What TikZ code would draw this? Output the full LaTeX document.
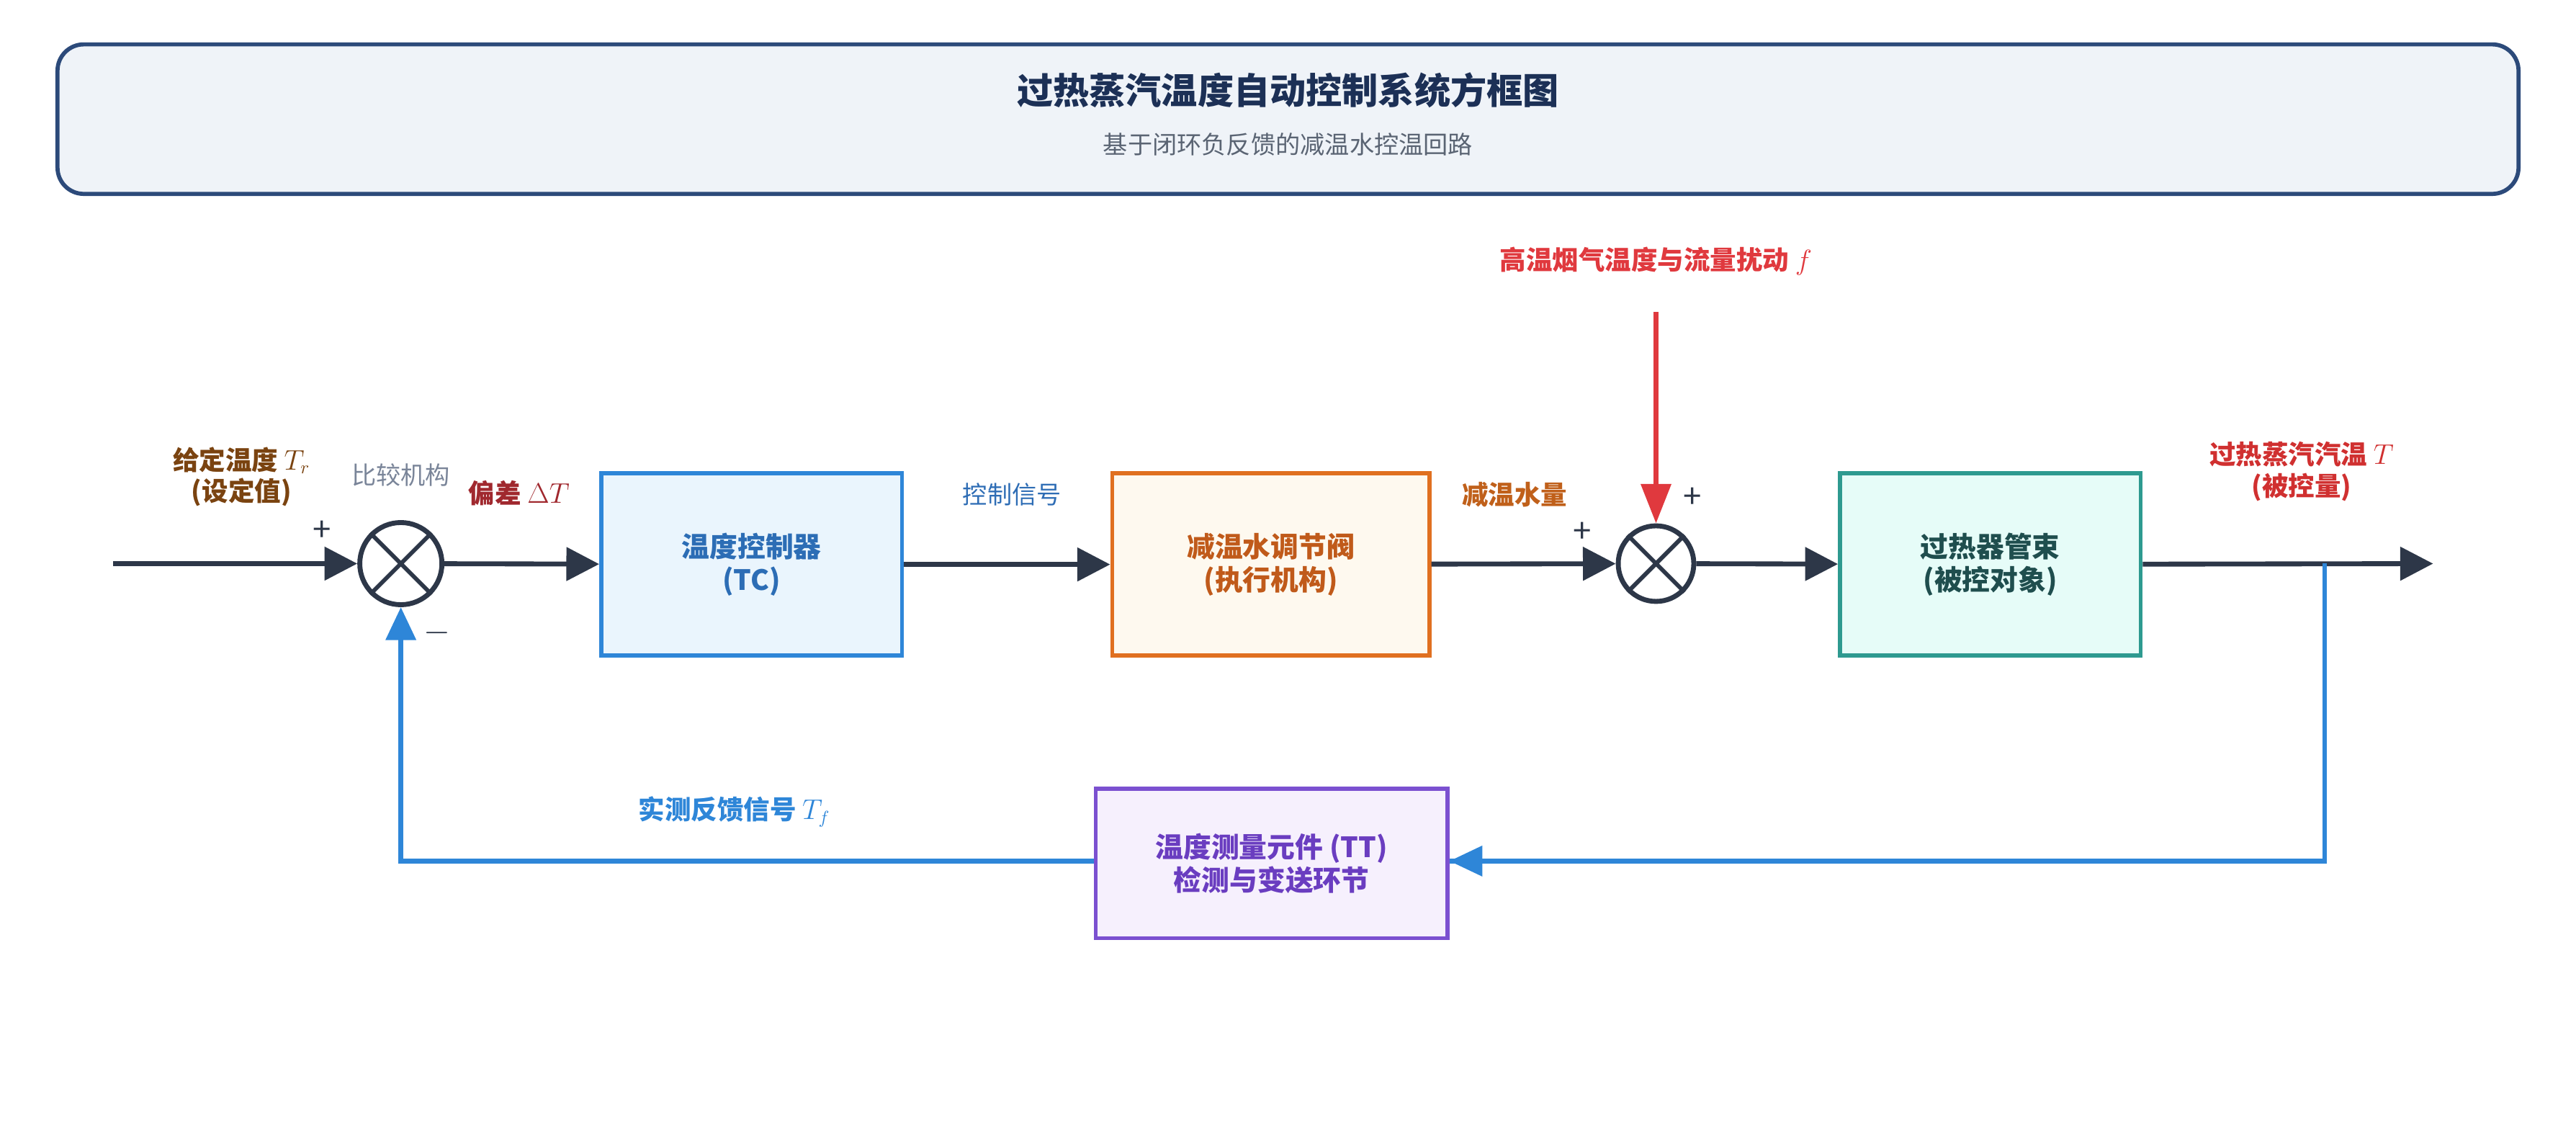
\documentclass[tikz,border=0pt]{standalone}
\usepackage{fontspec}
\setmainfont{Noto Sans CJK SC}
\usetikzlibrary{arrows.meta}
\definecolor{dark}{HTML}{2D3748}
\definecolor{fbblue}{HTML}{2E86D8}
\definecolor{dred}{HTML}{E0393E}
\begin{document}
\begin{tikzpicture}[x=1pt,y=-1pt,
  sig/.style={line width=3pt,draw=dark,-{Triangle[length=20pt,width=20pt]}},
  fb/.style={line width=3pt,draw=fbblue,-{Triangle[length=20pt,width=18pt]}},
  fbl/.style={line width=3pt,draw=fbblue},
  blk/.style={draw,line width=2.5pt,minimum width=183pt,minimum height=111pt,align=center,font=\fontsize{17}{20}\selectfont\bfseries},
  sum/.style={circle,draw=dark,line width=3pt,fill=white,minimum size=50pt,inner sep=0pt},
  lbl/.style={font=\fontsize{16}{19}\selectfont\bfseries,align=center},
  pm/.style={font=\fontsize{20}{20}\selectfont,text=dark}]
\useasboundingbox (0,0) rectangle (1568,697);
% title
\node[draw={rgb,255:red,44;green,74;blue,122},line width=2.5pt,fill={rgb,255:red,239;green,243;blue,248},rounded corners=16pt,minimum width=1498pt,minimum height=91pt] (title) at (784,72.5) {};
\node[font=\fontsize{22}{26}\selectfont\bfseries,text={rgb,255:red,28;green,48;blue,86}] (t1) at (784,55) {过热蒸汽温度自动控制系统方框图};
\node[font=\fontsize{15}{18}\selectfont,text={rgb,255:red,90;green,100;blue,115}] (t2) at (784,88) {基于闭环负反馈的减温水控温回路};
% blocks
\node[blk,draw=fbblue,fill={rgb,255:red,234;green,245;blue,253},text={rgb,255:red,44;green,109;blue,181}] (tc) at (457.5,343.5) {温度控制器\\(TC)};
\node[blk,minimum width=193pt,draw={rgb,255:red,224;green,112;blue,32},fill={rgb,255:red,254;green,249;blue,239},text={rgb,255:red,192;green,90;blue,26}] (valve) at (773.5,343.5) {减温水调节阀\\(执行机构)};
\node[blk,draw={rgb,255:red,46;green,154;blue,144},fill={rgb,255:red,230;green,252;blue,248},text={rgb,255:red,31;green,78;blue,78}] (plant) at (1211.5,343.5) {过热器管束\\(被控对象)};
\node[blk,minimum width=214pt,minimum height=91pt,draw={rgb,255:red,123;green,80;blue,208},fill={rgb,255:red,246;green,240;blue,253},text={rgb,255:red,106;green,61;blue,192}] (tt) at (774,525.5) {温度测量元件 (TT)\\检测与变送环节};
% summing junctions
\node[sum] (s1) at (244,343) {};
\draw[dark,line width=2.5pt] (s1.north west)--(s1.south east) (s1.north east)--(s1.south west);
\node[sum,minimum size=46pt] (s2) at (1008,343) {};
\draw[dark,line width=2.5pt] (s2.north west)--(s2.south east) (s2.north east)--(s2.south west);
% coordinates
\coordinate (in) at (69,343);
\coordinate (out) at (1481,343);
\coordinate (tap) at (1415,343);
\coordinate (tapd) at (1415,524);
\coordinate (fbc) at (244,524);
\coordinate (dist) at (1008,190);
% connectors
\draw[sig] (in) -- (s1);
\draw[sig] (s1) -- (tc);
\draw[sig] (tc) -- (valve);
\draw[sig] (valve) -- (s2);
\draw[sig] (s2) -- (plant);
\draw[sig] (plant) -- (out);
\draw[fbl] (tap) -- (tapd) -- (tt.east|-tapd);
\draw[fb] (960,524) -- (tt.east|-tapd);
\draw[fb] (tt.west|-fbc) -- (fbc) -- (s1);
\draw[line width=3pt,draw=dred,-{Triangle[length=24pt,width=18pt]}] (dist) -- (s2);
% labels
\node[lbl,text={rgb,255:red,122;green,67;blue,16}] (lr) at (147,290) {给定温度 $T_r$\\(设定值)};
\node[font=\fontsize{15}{18}\selectfont,text={rgb,255:red,122;green,133;blue,153}] (lc) at (244,289) {比较机构};
\node[lbl,text={rgb,255:red,160;green,40;blue,46}] (le) at (316,300) {偏差 $\Delta T$};
\node[font=\fontsize{15}{18}\selectfont,text={rgb,255:red,46;green,109;blue,181}] (lu) at (616,301) {控制信号};
\node[lbl,text={rgb,255:red,192;green,96;blue,26}] (lw) at (922,301) {减温水量};
\node[lbl,text={rgb,255:red,208;green,48;blue,48}] (ly) at (1401,287) {过热蒸汽汽温 $T$\\(被控量)};
\node[lbl,text=dred] (ld) at (1008,159) {高温烟气温度与流量扰动 $f$};
\node[lbl,text=fbblue] (lf) at (447,494) {实测反馈信号 $T_f$};
\node[pm] (p1) at (196,323) {+};
\node[pm] (p2) at (963,324) {+};
\node[pm] (p3) at (1030,303) {+};
\node[pm] (m1) at (266,385) {$-$};
\end{tikzpicture}
\end{document}
